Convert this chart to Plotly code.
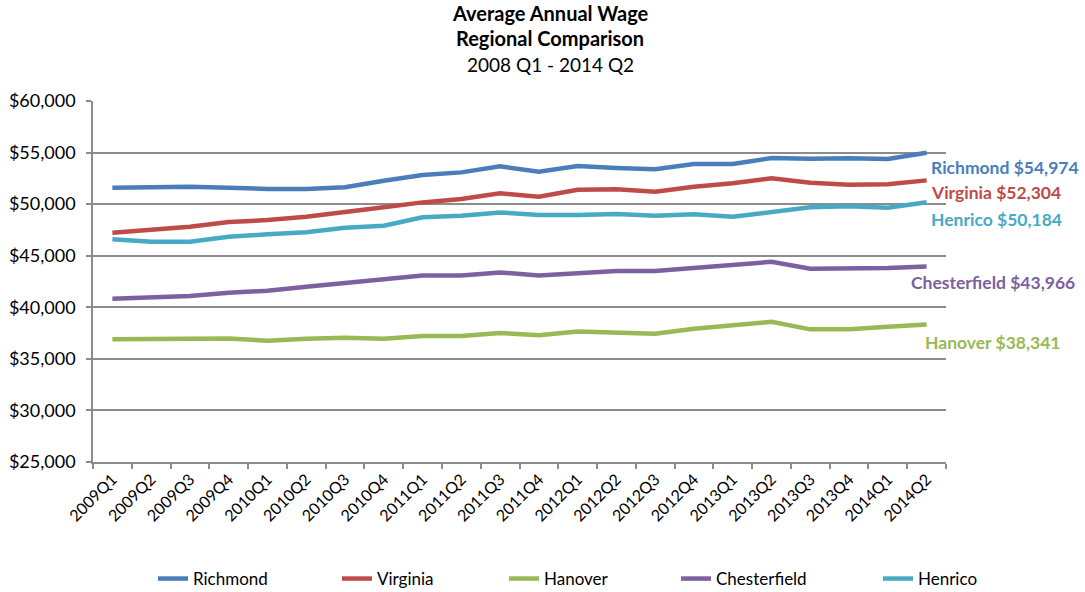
import plotly.graph_objects as go

quarters = ["2009Q1", "2009Q2", "2009Q3", "2009Q4", "2010Q1", "2010Q2", "2010Q3", "2010Q4",
            "2011Q1", "2011Q2", "2011Q3", "2011Q4", "2012Q1", "2012Q2", "2012Q3", "2012Q4",
            "2013Q1", "2013Q2", "2013Q3", "2013Q4", "2014Q1", "2014Q2"]

richmond = [51590, 51690, 51690, 51590, 51470, 51470, 51630, 52270, 52820, 53080, 53670,
            53140, 53700, 53500, 53380, 53890, 53890, 54470, 54400, 54440, 54370, 54974]
virginia = [47230, 47520, 47810, 48260, 48460, 48780, 49200, 49690, 50170, 50490, 51050,
            50720, 51400, 51440, 51200, 51690, 52020, 52500, 52080, 51880, 51920, 52304]
hanover = [36890, 36950, 36980, 36980, 36750, 36950, 37040, 36950, 37210, 37210, 37500,
           37300, 37660, 37590, 37430, 37920, 38240, 38590, 37860, 37860, 38110, 38341]
chesterfield = [40820, 40990, 41090, 41410, 41600, 41990, 42380, 42710, 43090, 43090, 43380,
                43090, 43350, 43510, 43510, 43800, 44090, 44410, 43730, 43730, 43800, 43966]
henrico = [46590, 46350, 46350, 46840, 47070, 47270, 47710, 47900, 48720, 48880, 49200,
           48940, 48940, 49040, 48880, 49010, 48780, 49230, 49690, 49790, 49650, 50184]

title_lines = ["<b>Average Annual Wage</b>", "<b>Regional Comparison</b>", "2008 Q1 - 2014 Q2"]

series = [
    ("Richmond", richmond, "#4a7ebb", 139),
    ("Virginia", virginia, "#be4b48", 122),
    ("Hanover", hanover, "#98b954", 127),
    ("Chesterfield", chesterfield, "#7d60a0", 157),
    ("Henrico", henrico, "#46aac5", 62),
]

FONT = "Lato"
GRID = "#8c8c8c"
L, R, T, B = 93, 946, 101, 462
H = B - T

fig = go.Figure()
for name, vals, color, lw in series:
    fig.add_trace(go.Scatter(x=quarters, y=vals, name=name, mode="lines",
                             line=dict(color=color, width=4.5),
                             legendwidth=lw))

# end labels: (anchor y value, left px)
label_pos = {"Richmond": (53600, 929), "Virginia": (51170, 929), "Henrico": (48560, 929),
             "Chesterfield": (42450, 909), "Hanover": (36630, 923)}
for name, vals, color, lw in series:
    yv, xpx = label_pos[name]
    fig.add_annotation(x=(xpx - L) / (R - L), xref="paper", y=yv, yref="y",
                       xanchor="left", yanchor="middle", showarrow=False,
                       text=f"<b>{name} ${vals[-1]:,}</b>",
                       font=dict(family=FONT, size=17.5, color=color))

# title lines (center y in px, size)
for txt, cy, fs in zip(title_lines, [13, 38, 64], [20, 20, 19]):
    fig.add_annotation(x=(550 - L) / (R - L), xref="paper", y=(B - cy) / H, yref="paper",
                       xanchor="center", yanchor="middle", showarrow=False,
                       text=txt, font=dict(family=FONT, size=fs, color="black"))

fig.update_layout(
    width=1085, height=592,
    margin=dict(l=L, r=1085 - R, t=T, b=592 - B, autoexpand=False),
    paper_bgcolor="white", plot_bgcolor="white",
    font=dict(family=FONT, size=15, color="black"),
    showlegend=True,
    legend=dict(orientation="h", x=(153 - L) / (R - L), xanchor="left",
                y=(B - 579) / H, yanchor="middle",
                font=dict(family=FONT, size=17, color="black"),
                entrywidthmode="pixels"),
    xaxis=dict(type="category", range=[-0.5, 21.5], tickangle=-45, tickson="boundaries",
               ticks="outside", ticklen=5, tickcolor=GRID, tickwidth=1.5,
               showline=True, linecolor=GRID, linewidth=1.5, showgrid=False,
               tickfont=dict(family=FONT, size=16, color="black")),
    yaxis=dict(range=[25000, 60000], dtick=5000, tickprefix="$", tickformat=",d",
               ticks="outside", ticklen=5, tickcolor=GRID, tickwidth=1.5,
               showline=True, linecolor=GRID, linewidth=1.5, ticklabelstandoff=7,
               showgrid=True, gridcolor=GRID, gridwidth=1.5, zeroline=False,
               tickfont=dict(family=FONT, size=18, color="black")),
)

fig.write_html("out.html")
